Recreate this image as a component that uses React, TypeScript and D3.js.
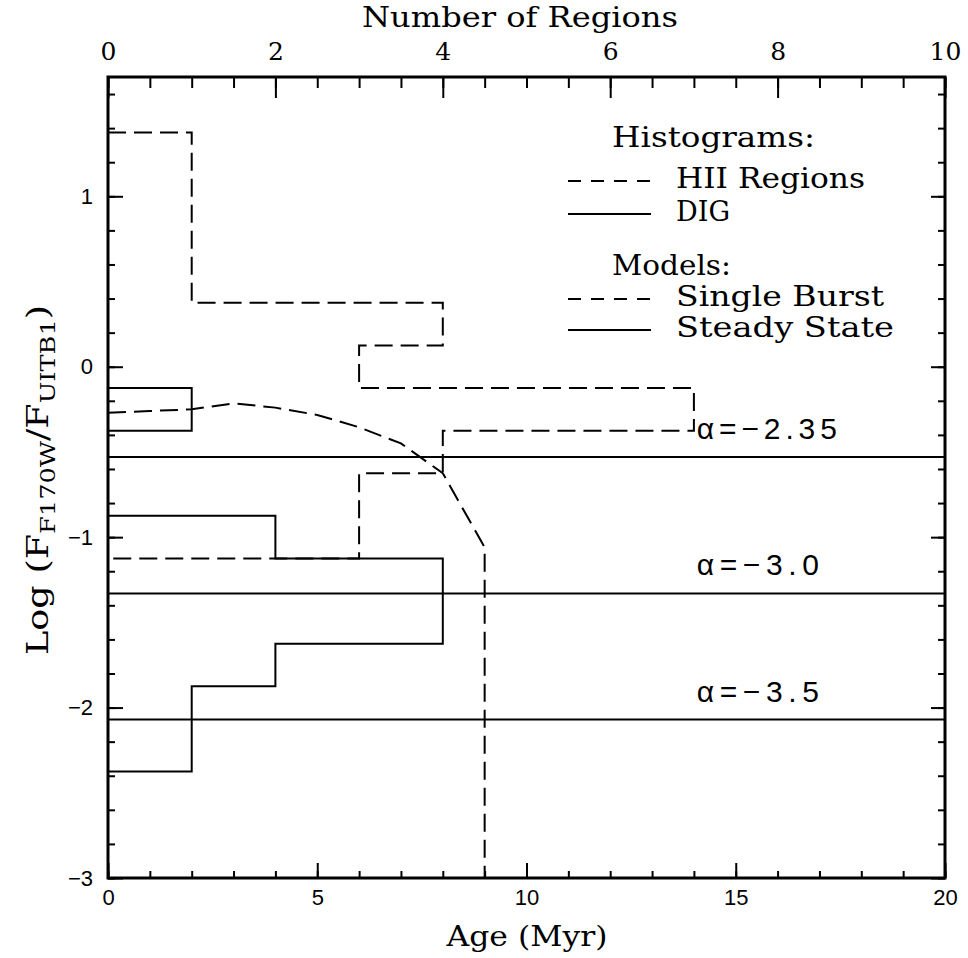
import { useEffect, useRef } from 'react'
import * as d3 from 'd3'

const W = 968
const H = 958

// Horizontal histograms: bins in log flux ratio (width 0.25), counts read on the top axis
const binCenters = [1.25, 1.0, 0.75, 0.5, 0.25, 0.0, -0.25, -0.5, -0.75, -1.0, -1.25, -1.5, -1.75, -2.0, -2.25]
const hiiCounts = [1, 1, 1, 1, 4, 3, 7, 4, 3, 3, 0, 0, 0, 0, 0]
const digCounts = [0, 0, 0, 0, 0, 0, 1, 0, 0, 2, 4, 4, 2, 1, 1]
const binWidth = 0.25

// Single burst model track (age in Myr vs log ratio)
const burstAge = [0, 1, 2, 3, 4, 5, 6, 7, 8, 9, 9]
const burstLog = [-0.27, -0.26, -0.25, -0.215, -0.24, -0.283, -0.355, -0.45, -0.625, -1.06, -3.0]

// Steady state models
const steadyAlpha = ['−2.35', '−3.0', '−3.5']
const steadyLog = [-0.53, -1.33, -2.07]

const ageMajor = [0, 5, 10, 15, 20]
const countMajor = [0, 2, 4, 6, 8, 10]
const logMajor = [1, 0, -1, -2, -3]

const SERIF = "'DejaVu Serif', serif"
const SANS = "'Liberation Sans', Arial, sans-serif"

// step outline of a horizontal histogram, trimmed of empty end bins
function histPoints(counts: number[]): [number, number][] {
  const first = counts.findIndex(c => c > 0)
  let last = counts.length - 1
  while (last > 0 && counts[last] === 0) last--
  const pts: [number, number][] = []
  pts.push([0, binCenters[first] + binWidth / 2])
  for (let i = first; i <= last; i++) {
    pts.push([counts[i], binCenters[i] + binWidth / 2])
    pts.push([counts[i], binCenters[i] - binWidth / 2])
  }
  pts.push([0, binCenters[last] - binWidth / 2])
  return pts
}

export default function App() {
  const ref = useRef<SVGSVGElement | null>(null)

  useEffect(() => {
    if (!ref.current) return
    const svg = d3.select(ref.current)
    svg.selectAll('*').remove()

    const left = 108, right = 945, top = 77, bottom = 878

    const x = d3.scaleLinear().domain([0, 20]).range([left, right])
    const n = d3.scaleLinear().domain([0, 10]).range([left, right])
    const y = d3.scaleLinear().domain([-3, 1.7]).range([bottom, top])

    const dash = '18,8'

    // histograms
    const histLine = d3.line<[number, number]>().x(d => n(d[0])).y(d => y(d[1]))
    svg.append('path')
      .attr('d', histLine(histPoints(hiiCounts)))
      .attr('fill', 'none').attr('stroke', '#000').attr('stroke-width', 2)
      .attr('stroke-dasharray', dash)
    svg.append('path')
      .attr('d', histLine(histPoints(digCounts)))
      .attr('fill', 'none').attr('stroke', '#000').attr('stroke-width', 2)

    // single burst model
    const burst = burstAge.map((a, i) => [a, burstLog[i]] as [number, number])
    svg.append('path')
      .attr('d', d3.line<[number, number]>().x(d => x(d[0])).y(d => y(d[1]))(burst))
      .attr('fill', 'none').attr('stroke', '#000').attr('stroke-width', 2)
      .attr('stroke-dasharray', dash)

    // steady state models
    steadyLog.forEach((v, i) => {
      svg.append('line')
        .attr('x1', x(0)).attr('x2', x(20))
        .attr('y1', y(v)).attr('y2', y(v))
        .attr('stroke', '#000').attr('stroke-width', 2)
      svg.append('text')
        .attr('x', x(14.07)).attr('y', y(v) - 18)
        .attr('font-family', SANS).attr('font-size', 30)
        .attr('textLength', steadyAlpha[i].length > 4 ? 140 : 122)
        .attr('lengthAdjust', 'spacing')
        .text(`α=${steadyAlpha[i]}`)
    })

    // axes
    const styleAxis = (g: any, labelFont: string, labelSize: number) => {
      g.select('.domain').remove()
      g.attr('font-size', labelSize).attr('font-family', labelFont)
      g.selectAll('line').attr('stroke', '#000').attr('stroke-width', 2)
      g.selectAll('text').attr('font-family', labelFont).attr('font-size', labelSize).attr('fill', '#000')
    }

    const bottomMinor = svg.append('g').attr('transform', `translate(0,${bottom})`)
      .call(d3.axisBottom(x).tickValues(d3.range(0, 21, 1)).tickSize(-7).tickFormat(() => ''))
    styleAxis(bottomMinor, SANS, 22)
    const bottomMajor = svg.append('g').attr('transform', `translate(0,${bottom})`)
      .call(d3.axisBottom(x).tickValues(ageMajor).tickSize(-15).tickPadding(11).tickFormat(d3.format('d')))
    styleAxis(bottomMajor, SANS, 22)

    const topMinor = svg.append('g').attr('transform', `translate(0,${top})`)
      .call(d3.axisTop(n).tickValues(d3.range(0, 10.01, 0.5)).tickSize(-11).tickFormat(() => ''))
    styleAxis(topMinor, SERIF, 25)
    const topMajor = svg.append('g').attr('transform', `translate(0,${top})`)
      .call(d3.axisTop(n).tickValues(countMajor).tickSize(-21).tickPadding(17).tickFormat(d3.format('d')))
    styleAxis(topMajor, SERIF, 25)

    const yMinorVals = d3.range(-3, 1.71, 0.2).map(v => Math.round(v * 10) / 10)
    const fmtLog = (d: any) => (d < 0 ? '−' + Math.abs(d) : String(d))
    const leftMinor = svg.append('g').attr('transform', `translate(${left},0)`)
      .call(d3.axisLeft(y).tickValues(yMinorVals).tickSize(-7).tickFormat(() => ''))
    styleAxis(leftMinor, SANS, 22)
    const leftMajor = svg.append('g').attr('transform', `translate(${left},0)`)
      .call(d3.axisLeft(y).tickValues(logMajor).tickSize(-15).tickPadding(15).tickFormat(fmtLog))
    styleAxis(leftMajor, SANS, 22)

    const rightMinor = svg.append('g').attr('transform', `translate(${right},0)`)
      .call(d3.axisRight(y).tickValues(yMinorVals).tickSize(-7).tickFormat(() => ''))
    styleAxis(rightMinor, SANS, 22)
    const rightMajor = svg.append('g').attr('transform', `translate(${right},0)`)
      .call(d3.axisRight(y).tickValues(logMajor).tickSize(-14).tickFormat(() => ''))
    styleAxis(rightMajor, SANS, 22)

    // frame
    svg.append('rect')
      .attr('x', left).attr('y', top)
      .attr('width', right - left).attr('height', bottom - top)
      .attr('fill', 'none').attr('stroke', '#000').attr('stroke-width', 3)

    // axis titles
    svg.append('text')
      .attr('x', 520).attr('y', 27).attr('text-anchor', 'middle')
      .attr('font-family', SERIF).attr('font-size', 27)
      .attr('textLength', 316).attr('lengthAdjust', 'spacingAndGlyphs')
      .text('Number of Regions')
    svg.append('text')
      .attr('x', 527).attr('y', 946).attr('text-anchor', 'middle')
      .attr('font-family', SERIF).attr('font-size', 27)
      .attr('textLength', 161).attr('lengthAdjust', 'spacingAndGlyphs')
      .text('Age (Myr)')

    const yt = svg.append('text')
      .attr('transform', 'translate(48,480) rotate(-90)')
      .attr('text-anchor', 'middle')
      .attr('font-family', SERIF).attr('font-size', 30)
      .attr('textLength', 350).attr('lengthAdjust', 'spacingAndGlyphs')
    yt.append('tspan').text('Log (F')
    yt.append('tspan').attr('font-size', 21).attr('dy', 7).text('F170W')
    yt.append('tspan').attr('dy', -7).text('/F')
    yt.append('tspan').attr('font-size', 21).attr('dy', 7).text('UITB1')
    yt.append('tspan').attr('dy', -7).text(')')

    // legend
    const legend = [
      { label: 'Histograms:', head: true, y: 147, style: null },
      { label: 'HII Regions', head: false, y: 188, style: 'dash' },
      { label: 'DIG', head: false, y: 221, style: 'solid' },
      { label: 'Models:', head: true, y: 275, style: null },
      { label: 'Single Burst', head: false, y: 306, style: 'dash' },
      { label: 'Steady State', head: false, y: 337, style: 'solid' },
    ]
    const widths: Record<string, number> = {
      'Histograms:': 203, 'HII Regions': 189, 'DIG': 54,
      'Models:': 119, 'Single Burst': 208, 'Steady State': 218,
    }
    legend.forEach(item => {
      svg.append('text')
        .attr('x', item.head ? 612 : 676).attr('y', item.y)
        .attr('font-family', SERIF).attr('font-size', 27)
        .attr('textLength', widths[item.label]).attr('lengthAdjust', 'spacingAndGlyphs')
        .text(item.label)
      if (item.style) {
        svg.append('line')
          .attr('x1', 568).attr('x2', 651)
          .attr('y1', item.y - 7).attr('y2', item.y - 7)
          .attr('stroke', '#000').attr('stroke-width', 2)
          .attr('stroke-dasharray', item.style === 'dash' ? '13,10' : null)
      }
    })
  }, [])

  return (
    <svg ref={ref} width={W} height={H}
      style={{ position: 'absolute', left: 0, top: 0, background: '#fff' }} />
  )
}
